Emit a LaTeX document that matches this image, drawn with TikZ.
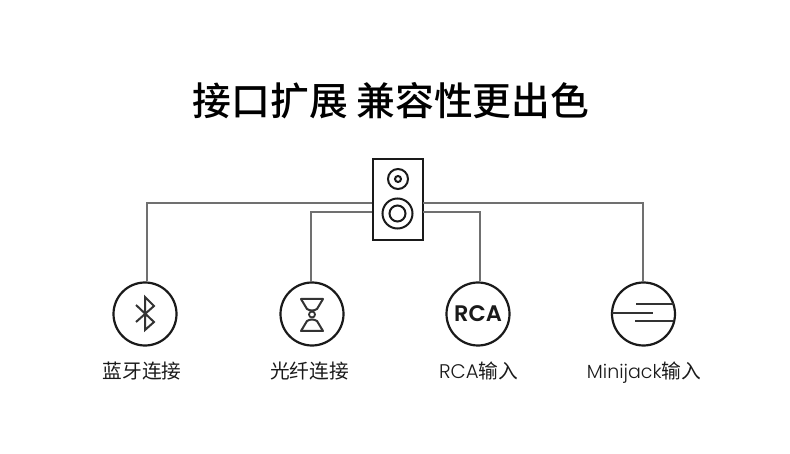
\documentclass[tikz,border=0pt]{standalone}
\usepackage{fontspec}
\setmainfont{Noto Sans CJK SC}
\newfontfamily\cjkbold{Noto Sans CJK SC Medium}
\newfontfamily\cjklabel{Noto Sans CJK SC}
\newfontfamily\latinlight{Poppins Light}
\newfontfamily\latinbold{Poppins SemiBold}
\usetikzlibrary{positioning, calc}
\definecolor{cink}{HTML}{1A1A1A}
\definecolor{cwire}{HTML}{707070}
\definecolor{cicon}{HTML}{333333}
\tikzset{
  every picture/.style={x=1pt, y=-1pt, line width=2pt},
  wire/.style={draw=cwire, line width=2.2pt},
  port/.style={circle, draw=cink, fill=white, minimum size=63pt, inner sep=0pt, line width=2.2pt},
  tag/.style={font=\cjklabel\fontsize{19.7}{21}\selectfont, text=cink, inner sep=0pt, anchor=base},
  glyph/.style={draw=cicon, line width=2pt},
  cone/.style={circle, draw=cink, line width=2pt, inner sep=0pt},
}
\begin{document}
\begin{tikzpicture}
  \useasboundingbox (0,0) rectangle (790,454);
  \node[font=\cjkbold\fontsize{38.8}{40}\selectfont, text=black, inner sep=0pt] (headline) at (391,101) {接口扩展 兼容性更出色};
  % speaker
  \node[draw=cink, fill=white, line width=2pt, minimum width=50pt, minimum height=81pt, inner sep=0pt] (speaker) at (397.5,200) {};
  \coordinate (tapouterl) at (372,203);
  \coordinate (tapinnerl) at (372,212);
  \coordinate (tapinnerr) at (423,212);
  \coordinate (tapouterr) at (423,203);
  \node[cone, minimum size=20pt] (tweeter) at (398,179) {};
  \node[cone, minimum size=6pt] (tweetercap) at (398,179) {};
  \node[cone, minimum size=30pt] (woofer) at (397.5,213.5) {};
  \node[cone, minimum size=16pt] (woofercap) at (397.5,213.5) {};
  % ports
  \node[port] (bluetooth) at (145,314) {};
  \node[port] (optical) at (312,314) {};
  \node[port, font=\latinbold\fontsize{22.5}{24}\selectfont, text=cink] (rca) at (478,314) {RCA};
  \node[port] (minijack) at (643.5,314) {};
  \draw[wire] ([xshift=2pt]bluetooth.north) |- (tapouterl);
  \draw[wire] ([xshift=-1pt]optical.north) |- (tapinnerl);
  \draw[wire] ([xshift=2pt]rca.north) |- (tapinnerr);
  \draw[wire] ([xshift=-0.5pt]minijack.north) |- (tapouterr);
  % icons
  \draw[glyph] (136,305) -- (154,322) -- (145,330) -- (145,297) -- (154,306) -- (136,322);
  \draw[glyph, line join=round] (301,299) -- (323,299) -- (317,309) .. controls (314,311) and (310,311) .. (307,309) -- cycle;
  \draw[glyph, line join=round] (301,331) -- (323,331) -- (317,321) .. controls (314,319) and (310,319) .. (307,321) -- cycle;
  \node[circle, draw=cicon, line width=1.8pt, minimum size=6pt, inner sep=0pt] (opticaleye) at (312,314.5) {};
  \draw[glyph] (636,304.5) -- (674,304.5);
  \draw[glyph] (612,313.5) -- (653,313.5);
  \draw[glyph] (635,321.5) -- (673,321.5);
  % labels
  \node[tag] (bluetoothtag) at (142,378) {蓝牙连接};
  \node[tag] (opticaltag) at (309.5,378) {光纤连接};
  \node[tag] (rcatag) at (478.5,378) {{\latinlight RCA}输入};
  \node[tag] (minijacktag) at (644,378) {{\latinlight\fontsize{19}{21}\selectfont Minijack}输入};
\end{tikzpicture}
\end{document}
